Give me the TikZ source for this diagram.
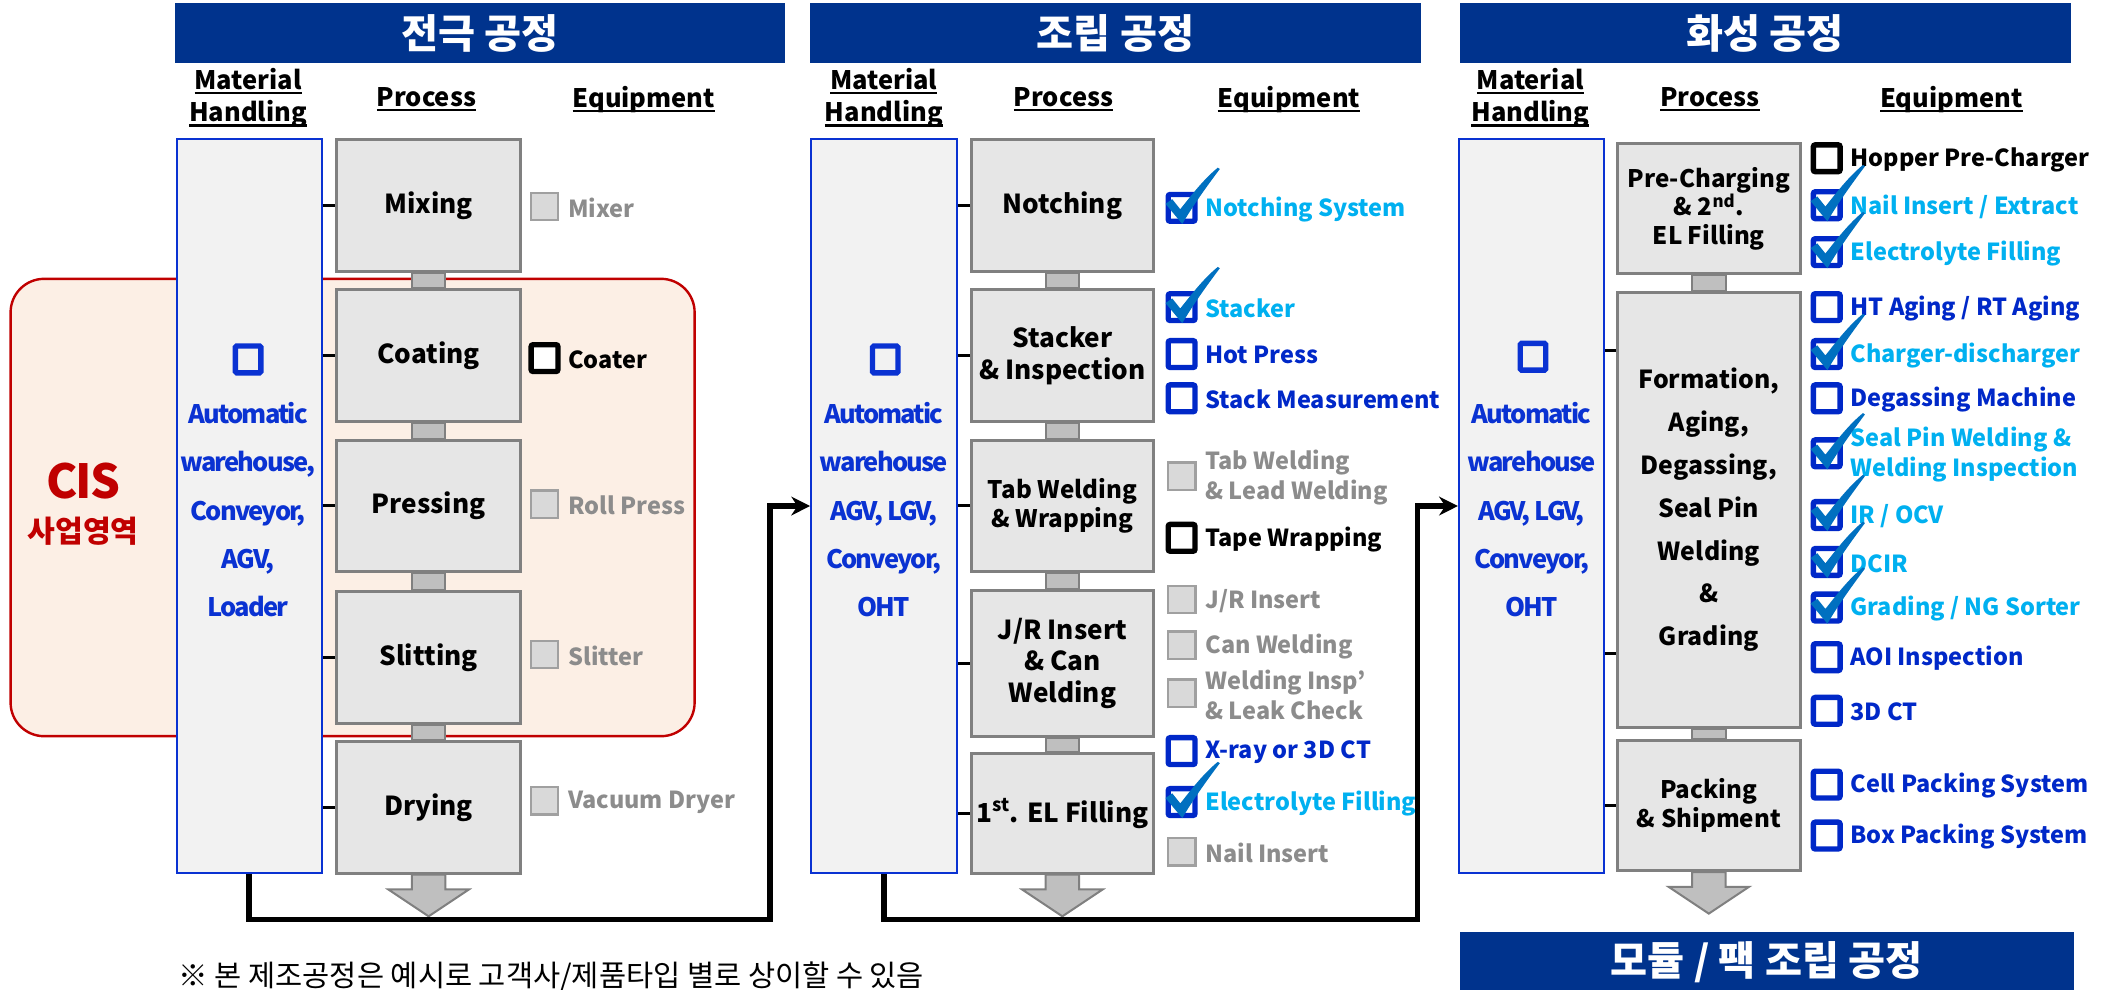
\documentclass[tikz,border=0pt]{standalone}
\usepackage{fontspec}
\setmainfont{Noto Sans CJK KR}
\usetikzlibrary{calc,arrows.meta}
\definecolor{hdrblue}{RGB}{0,51,141}
\definecolor{mhblue}{RGB}{10,50,210}
\definecolor{txtblue}{RGB}{0,40,200}
\definecolor{cyantxt}{RGB}{0,176,240}
\definecolor{checkblue}{RGB}{0,112,192}
\definecolor{procfill}{RGB}{230,230,230}
\definecolor{procdraw}{RGB}{128,128,128}
\definecolor{connfill}{RGB}{191,191,191}
\definecolor{graytxt}{RGB}{140,140,140}
\definecolor{eqgrayfill}{RGB}{217,217,217}
\definecolor{eqgraydraw}{RGB}{160,160,160}
\definecolor{cisfill}{RGB}{252,239,229}
\definecolor{cisred}{RGB}{192,0,0}
\definecolor{mhfill}{RGB}{242,242,242}
\newcommand{\fs}[2]{\fontsize{#1}{#2}\selectfont}
\newcommand{\uln}[1]{\leavevmode\setbox0=\hbox{#1}\rlap{\vrule height -2pt depth 3.8pt width \wd0}\box0}
\newcommand{\chk}[1]{\fill[checkblue,shift={(#1.center)}] (-12,-3) -- (-7,-6.5) -- (-1,1) .. controls (7,-9) and (16,-21) .. (27,-30) -- (28.5,-29) .. controls (18,-15) and (8,-1) .. (0.5,12) -- cycle;}
\newcommand{\eqitem}[5]{\node[#1] (#2) at (#3) {};\node[#4] (#2l) at ($(#2.center)+(17.5,1)$) {#5};}
\begin{document}
\begin{tikzpicture}[x=1pt,y=-1pt,
 hdr/.style={fill=hdrblue,text=white,font=\bfseries\fs{30}{32},inner sep=0,anchor=north west},
 colhd/.style={font=\bfseries\fs{19}{24},align=center,inner sep=0},
 mhbox/.style={draw=mhblue,fill=mhfill,line width=1.6pt,inner sep=0,anchor=north west},
 mhicon/.style={draw=mhblue,line width=4pt,minimum width=19pt,minimum height=20pt,inner sep=0,rounded corners=1pt},
 mhtext/.style={text=mhblue,font=\bfseries\fs{19}{36}\addfontfeature{LetterSpace=-7},align=center,inner sep=0},
 proc/.style={draw=procdraw,fill=procfill,line width=2.2pt,font=\bfseries\fs{19.5}{24},align=center,inner sep=0,anchor=north west},
 conn/.style={draw=procdraw,fill=connfill,line width=1.5pt},
 tickln/.style={line width=2pt,black},
 flow/.style={line width=4.2pt,-{Stealth[length=14pt,width=14pt]}},
 eqg/.style={draw=eqgraydraw,fill=eqgrayfill,line width=1.8pt,minimum size=20.5pt,inner sep=0},
 eqb/.style={draw=txtblue,fill=white,line width=4pt,minimum size=20pt,inner sep=0,rounded corners=1.5pt},
 eqk/.style={draw=black,fill=white,line width=4pt,minimum size=20pt,inner sep=0,rounded corners=1.5pt},
 lbl/.style={anchor=west,inner sep=0,font=\bfseries\fs{17.5}{22},align=left},
 lg/.style={lbl,text=graytxt}, lk/.style={lbl,text=black}, lb/.style={lbl,text=txtblue}, lc/.style={lbl,text=cyantxt}
]
\useasboundingbox (0,0) rectangle (1568,738);
% CIS area
\node[draw=cisred,fill=cisfill,line width=1.8pt,rounded corners=25pt,minimum width=510pt,minimum height=341pt,anchor=north west] (cis) at (7,207) {};
\node[text=cisred,font=\bfseries\fs{35}{40}\addfontfeature{LetterSpace=-4},inner sep=0] (cist) at (62,359) {CIS};
\node[text=cisred,font=\bfseries\fs{22.5}{26},inner sep=0] (cist2) at (62,396) {사업영역};
% headers
\node[hdr,minimum width=455pt,minimum height=45pt] (h1) at (130,2) {전극 공정};
\node[hdr,minimum width=455pt,minimum height=45pt] (h2) at (604,2) {조립 공정};
\node[hdr,minimum width=456pt,minimum height=45pt] (h3) at (1088,2) {화성 공정};
\node[hdr,minimum width=458pt,minimum height=44pt] (h4) at (1088,695) {모듈 / 팩 조립 공정};
% column headers
\node[colhd] (mh1h) at (185,73) {\uln{Material}\\\uln{Handling}};
\node[colhd] (pr1h) at (318,74) {\uln{Process}};
\node[colhd] (eq1h) at (480,74) {\uln{Equipment}};
\node[colhd] (mh2h) at (659,73) {\uln{Material}\\\uln{Handling}};
\node[colhd] (pr2h) at (793,74) {\uln{Process}};
\node[colhd] (eq2h) at (961,74) {\uln{Equipment}};
\node[colhd] (mh3h) at (1141,73) {\uln{Material}\\\uln{Handling}};
\node[colhd] (pr3h) at (1275,74) {\uln{Process}};
\node[colhd] (eq3h) at (1455,74) {\uln{Equipment}};
% material handling boxes
\node[mhbox,minimum width=108pt,minimum height=547pt] (mh1) at (131,103) {};
\node[mhbox,minimum width=109pt,minimum height=547pt] (mh2) at (604,103) {};
\node[mhbox,minimum width=108pt,minimum height=547pt] (mh3) at (1087,103) {};
\node[mhicon] (mh1i) at (185,268) {};
\node[mhicon] (mh2i) at (660,268) {};
\node[mhicon] (mh3i) at (1143,266) {};
\node[mhtext] (mh1t) at (185,380) {Automatic\\warehouse,\\Conveyor,\\AGV,\\Loader};
\node[mhtext] (mh2t) at (659,380) {Automatic\\warehouse\\AGV, LGV,\\Conveyor,\\OHT};
\node[mhtext] (mh3t) at (1142,380) {Automatic\\warehouse\\AGV, LGV,\\Conveyor,\\OHT};
% process boxes section 1
\node[proc,minimum width=137pt,minimum height=98pt] (mix) at (250,103) {Mixing};
\node[proc,minimum width=137pt,minimum height=98pt] (coat) at (250,215) {Coating};
\node[proc,minimum width=137pt,minimum height=98pt] (press) at (250,327) {Pressing};
\node[proc,minimum width=137pt,minimum height=98pt] (slit) at (250,440) {Slitting};
\node[proc,minimum width=137pt,minimum height=98pt] (dry) at (250,552) {Drying};
% section 2
\node[proc,minimum width=136pt,minimum height=98pt] (notch) at (723,103) {Notching};
\node[proc,minimum width=136pt,minimum height=98pt] (stack) at (723,215) {Stacker\\\& Inspection};
\node[proc,minimum width=136pt,minimum height=98pt,font=\bfseries\fs{18}{22}] (tab) at (723,327) {Tab Welding\\\& Wrapping};
\node[proc,minimum width=136pt,minimum height=109pt,font=\bfseries\fs{19.5}{23.5}] (jr) at (723,439) {J/R Insert\\\& Can\\Welding};
\node[proc,minimum width=136pt,minimum height=89pt] (elf) at (723,561) {1\textsuperscript{st}. EL Filling};
% section 3
\node[proc,minimum width=136pt,minimum height=97pt,font=\bfseries\fs{18}{21}] (pre) at (1205,106) {Pre-Charging\\\& 2\textsuperscript{nd}.\\EL Filling};
\node[proc,minimum width=136pt,minimum height=324pt,font=\bfseries\fs{18.5}{32}] (form) at (1205,217) {Formation,\\Aging,\\Degassing,\\Seal Pin\\Welding\\\&\\Grading};
\node[proc,minimum width=136pt,minimum height=97pt,font=\bfseries\fs{18}{21}] (pack) at (1205,551) {Packing\\\& Shipment};
% link pieces between process boxes
\foreach \a/\b in {mix/coat,coat/press,press/slit,slit/dry,notch/stack,stack/tab,tab/jr,jr/elf,pre/form,form/pack}{
  \draw[conn] ($(\a.south)+(-12.5,0)$) rectangle ($(\b.north)+(12.5,0)$);
}
% down arrows
\foreach \a in {dry,elf,pack}{
  \draw[conn] ($(\a.south)+(-12.5,0)$) -- ++(0,11) -- ++(-17.5,0) -- ($(\a.south)+(0,31)$) -- ++(30,-20) -- ++(-17.5,0) -- ++(0,-11) -- cycle;
}
% ticks from handling to process
\foreach \p in {mix,coat,press,slit,dry}{\draw[tickln] (mh1.east |- \p.west) -- (\p.west);}
\foreach \p in {notch,stack,tab,jr,elf}{\draw[tickln] (mh2.east |- \p.west) -- (\p.west);}
\coordinate (f1) at ($(form.west)+(0,-119)$);
\coordinate (f2) at ($(form.west)+(0,107)$);
\foreach \p in {f1,f2,pack.west}{\draw[tickln] (mh3.east |- \p) -- (\p);}
% flow arrows
\draw[flow] (mh1.south) -- ++(0,34) -| ($(mh2.west)+(-30,0)$) -- (mh2.west);
\draw[flow] (mh2.south) -- ++(0,34) -| ($(mh3.west)+(-30,0)$) -- (mh3.west);
% equipment section 1
\eqitem{eqg}{a1}{406,154}{lg}{Mixer}
\eqitem{eqk}{a2}{406,267}{lk}{Coater}
\eqitem{eqg}{a3}{406,376}{lg}{Roll Press}
\eqitem{eqg}{a4}{406,488}{lg}{Slitter}
\eqitem{eqg}{a5}{406,597}{lg}{Vacuum Dryer}
% equipment section 2
\eqitem{eqb}{b1}{881,155}{lc}{Notching System}
\eqitem{eqb}{b2}{881,229}{lc}{Stacker}
\eqitem{eqb}{b3}{881,264}{lb}{Hot Press}
\eqitem{eqb}{b4}{881,297}{lb}{Stack Measurement}
\eqitem{eqg}{b5}{881,355}{lg}{Tab Welding\\\& Lead Welding}
\eqitem{eqk}{b6}{881,401}{lk}{Tape Wrapping}
\eqitem{eqg}{b7}{881,447}{lg}{J/R Insert}
\eqitem{eqg}{b8}{881,481}{lg}{Can Welding}
\eqitem{eqg}{b9}{881,517}{lg}{Welding Insp’\\\& Leak Check}
\eqitem{eqb}{b10}{881,560}{lb}{X-ray or 3D CT}
\eqitem{eqb}{b11}{881,598}{lc}{Electrolyte Filling}
\eqitem{eqg}{b12}{881,635}{lg}{Nail Insert}
% equipment section 3
\eqitem{eqk}{c1}{1362,118}{lk}{Hopper Pre-Charger}
\eqitem{eqb}{c2}{1362,153}{lc}{Nail Insert / Extract}
\eqitem{eqb}{c3}{1362,188}{lc}{Electrolyte Filling}
\eqitem{eqb}{c4}{1362,229}{lb}{HT Aging / RT Aging}
\eqitem{eqb}{c5}{1362,264}{lc}{Charger-discharger}
\eqitem{eqb}{c6}{1362,297}{lb}{Degassing Machine}
\eqitem{eqb}{c7}{1362,338}{lc}{Seal Pin Welding \&\\Welding Inspection}
\eqitem{eqb}{c8}{1362,384}{lc}{IR / OCV}
\eqitem{eqb}{c9}{1362,419}{lc}{DCIR}
\eqitem{eqb}{c10}{1362,453}{lc}{Grading / NG Sorter}
\eqitem{eqb}{c11}{1362,490}{lb}{AOI Inspection}
\eqitem{eqb}{c12}{1362,530}{lb}{3D CT}
\eqitem{eqb}{c13}{1362,585}{lb}{Cell Packing System}
\eqitem{eqb}{c14}{1362,623}{lb}{Box Packing System}
% check marks
\foreach \n in {b1,b2,b11,c2,c3,c5,c7,c8,c9,c10}{\chk{\n}}
% footnote
\node[anchor=west,inner sep=0,font=\fs{22}{24}] (note) at (133,728) {※ 본 제조공정은 예시로 고객사/제품타입 별로 상이할 수 있음};
\end{tikzpicture}
\end{document}
